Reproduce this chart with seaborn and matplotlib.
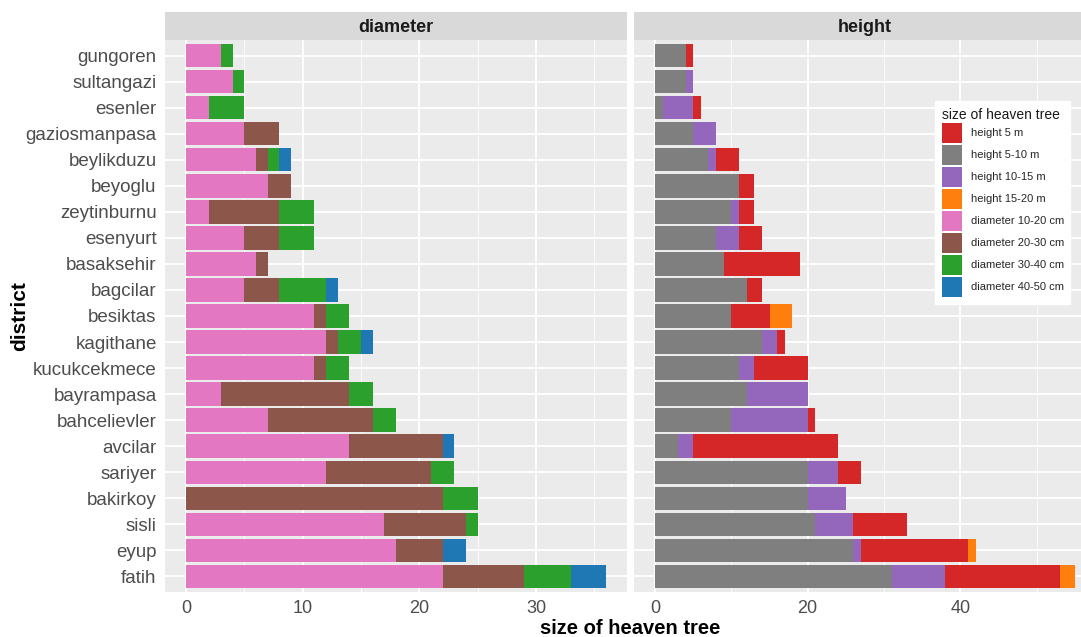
import pandas as pd
import numpy as np
import matplotlib
matplotlib.use("Agg")
import matplotlib.pyplot as plt
from matplotlib.patches import Patch, Rectangle
from matplotlib.legend_handler import HandlerPatch
from matplotlib.ticker import MultipleLocator
import seaborn as sns

# districts, top to bottom
districts = ['gungoren', 'sultangazi', 'esenler', 'gaziosmanpasa', 'beylikduzu',
             'beyoglu', 'zeytinburnu', 'esenyurt', 'basaksehir', 'bagcilar',
             'besiktas', 'kagithane', 'kucukcekmece', 'bayrampasa', 'bahcelievler',
             'avcilar', 'sariyer', 'bakirkoy', 'sisli', 'eyup', 'fatih']

# diameter counts
d10_20 = [3, 4, 2, 5, 6, 7, 2, 5, 6, 5, 11, 12, 11, 3, 7, 14, 12, 0, 17, 18, 22]
d20_30 = [0, 0, 0, 3, 1, 2, 6, 3, 1, 3, 1, 1, 1, 11, 9, 8, 9, 22, 7, 4, 7]
d30_40 = [1, 1, 3, 0, 1, 0, 3, 3, 0, 4, 2, 2, 2, 2, 2, 0, 2, 3, 1, 0, 4]
d40_50 = [0, 0, 0, 0, 1, 0, 0, 0, 0, 1, 0, 1, 0, 0, 0, 1, 0, 0, 0, 2, 3]

# height counts
h5_10 = [4, 4, 1, 5, 7, 11, 10, 8, 9, 12, 10, 14, 11, 12, 10, 3, 20, 20, 21, 26, 31]
h10_15 = [0, 1, 4, 3, 1, 0, 1, 3, 0, 0, 0, 2, 2, 8, 10, 2, 4, 5, 5, 1, 7]
h5 = [1, 0, 1, 0, 3, 2, 2, 3, 10, 2, 5, 1, 7, 0, 1, 19, 3, 0, 7, 14, 15]
h15_20 = [0, 0, 0, 0, 0, 0, 0, 0, 0, 0, 3, 0, 0, 0, 0, 0, 0, 0, 0, 1, 2]

colors = {
    'height 5 m': '#D62728',
    'height 5-10 m': '#7F7F7F',
    'height 10-15 m': '#9467BD',
    'height 15-20 m': '#FF7F0E',
    'diameter 10-20 cm': '#E377C2',
    'diameter 20-30 cm': '#8C564B',
    'diameter 30-40 cm': '#2CA02C',
    'diameter 40-50 cm': '#1F77B4',
}

sns.set_theme(style="darkgrid")
plt.rcParams['font.family'] = ['Liberation Sans', 'DejaVu Sans']

# stack segments left to right; draw cumulative totals from the outside in
diam = pd.DataFrame({'district': districts,
                     'diameter 10-20 cm': d10_20, 'diameter 20-30 cm': d20_30,
                     'diameter 30-40 cm': d30_40, 'diameter 40-50 cm': d40_50})
hgt = pd.DataFrame({'district': districts,
                    'height 5-10 m': h5_10, 'height 10-15 m': h10_15,
                    'height 5 m': h5, 'height 15-20 m': h15_20})

W, H = 1081, 637
fig = plt.figure(figsize=(W / 100, H / 100), dpi=100)

panels = [
    (diam, ['diameter 10-20 cm', 'diameter 20-30 cm', 'diameter 30-40 cm', 'diameter 40-50 cm'],
     'diameter', 165, 627, (-1.8, 37.8), 10),
    (hgt, ['height 5-10 m', 'height 10-15 m', 'height 5 m', 'height 15-20 m'],
     'height', 634, 1081, (-2.75, 55.8), 20),
]

top_px, bot_px, strip_px = 40, 592, 28
axes = []
for i, (df, cols, title, x0, x1, xlim, step) in enumerate(panels):
    ax = fig.add_axes([x0 / W, 1 - bot_px / H, (x1 - x0) / W, (bot_px - top_px) / H])
    cum = df[cols].cumsum(axis=1)
    for col in reversed(cols):
        sns.barplot(x=cum[col], y=df['district'], order=districts, color=colors[col],
                    saturation=1, width=0.9, errorbar=None, orient='y',
                    linewidth=0, edgecolor='none', ax=ax)
    ax.set_facecolor('#EBEBEB')
    ax.set_xlim(*xlim)
    ax.set_ylim(len(districts) - 0.4, -0.6)
    ax.xaxis.set_major_locator(MultipleLocator(step))
    ax.xaxis.set_minor_locator(MultipleLocator(step / 2))
    ax.grid(which='major', color='white', linewidth=1.3)
    ax.grid(which='minor', axis='x', color='white', linewidth=0.6)
    ax.set_axisbelow(True)
    for s in ax.spines.values():
        s.set_visible(False)
    ax.set_xlabel('')
    ax.set_ylabel('')
    ax.tick_params(axis='x', which='major', length=4, width=1, color='#333333',
                   labelsize=13, labelcolor='#4D4D4D', pad=2)
    ax.tick_params(axis='x', which='minor', length=0)
    if i == 0:
        ax.tick_params(axis='y', length=4, width=1, color='#333333',
                       labelsize=13.5, labelcolor='#4D4D4D', pad=2)
    else:
        ax.tick_params(axis='y', length=0, labelleft=False)

    sax = fig.add_axes([x0 / W, 1 - top_px / H, (x1 - x0) / W, strip_px / H])
    sax.set_facecolor('#D9D9D9')
    sax.set_xticks([])
    sax.set_yticks([])
    for s in sax.spines.values():
        s.set_visible(False)
    cx = 0.5 if i == 0 else (865 - x0) / (x1 - x0)
    sax.text(cx, 0.45, title, ha='center', va='center', fontsize=13,
             fontweight='bold', color='#1A1A1A', transform=sax.transAxes)
    axes.append(ax)


# legend keys: nearly fill each row, small gap between them
def big_key(legend, orig_handle, xdescent, ydescent, width, height, fontsize):
    gap = 1.4
    return Rectangle((-xdescent, -ydescent + gap / 2), width, height - gap)


handles = [Patch(facecolor=c, edgecolor='none', label=k) for k, c in colors.items()]
leg = axes[1].legend(handles=handles, title='size of heaven tree', loc='upper left',
                     bbox_to_anchor=((935 - 634) / (1081 - 634), (592 - 101) / 552),
                     borderaxespad=0, fontsize=8, title_fontsize=10,
                     handlelength=1.8, handleheight=2.67, labelspacing=0.0,
                     handletextpad=0.8, frameon=True, fancybox=False,
                     facecolor='white', edgecolor='white', framealpha=1,
                     borderpad=0.6, alignment='left',
                     handler_map={Patch: HandlerPatch(patch_func=big_key)})
leg.get_title().set_color('#1A1A1A')

fig.text(630 / W, 1 - 629 / H, 'size of heaven tree', ha='center', va='center',
         fontsize=14.5, fontweight='bold', color='black')
fig.text(20 / W, 1 - 316 / H, 'district', ha='center', va='center', rotation=90,
         fontsize=15, fontweight='bold', color='black')

fig.savefig('out.png', dpi=100)
